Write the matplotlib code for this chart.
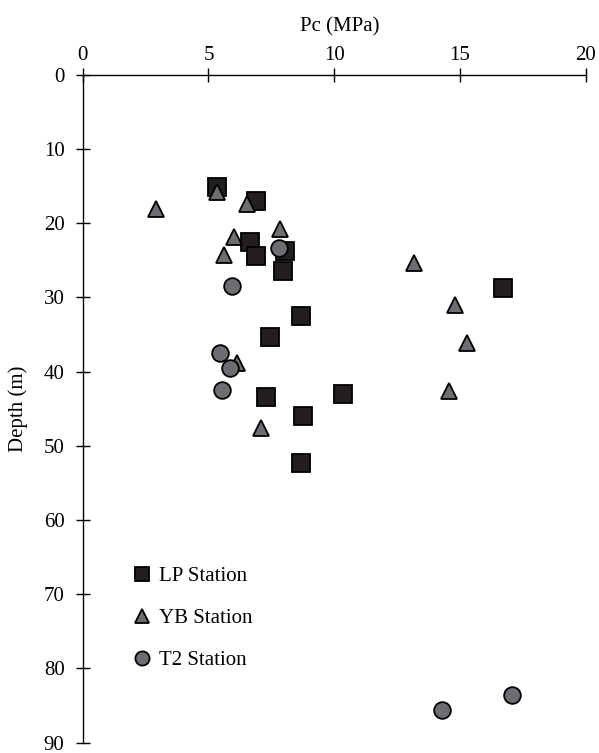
import matplotlib
matplotlib.use("Agg")
import matplotlib.pyplot as plt

plt.rcParams['font.family'] = ['Liberation Serif', 'DejaVu Serif']

# Pc (MPa) vs depth (m) for each station
lp_pc = [5.34, 6.90, 6.66, 8.05, 6.90, 7.95, 16.70, 8.67, 7.45, 7.28, 10.34, 8.74, 8.66]
lp_depth = [15.2, 17.0, 22.5, 23.7, 24.5, 26.5, 28.8, 32.5, 35.4, 43.5, 43.0, 46.0, 52.3]

yb_pc = [5.34, 2.91, 6.52, 7.84, 6.01, 5.61, 13.19, 14.79, 15.28, 6.12, 14.58, 7.07]
yb_depth = [15.8, 18.1, 17.4, 20.8, 21.9, 24.3, 25.4, 31.1, 36.2, 38.9, 42.6, 47.6]

t2_pc = [7.81, 5.93, 5.44, 5.86, 5.55, 14.28, 17.08]
t2_depth = [23.3, 28.5, 37.5, 39.5, 42.5, 85.6, 83.6]

x_ticks = [0, 5, 10, 15, 20]
y_ticks = [0, 10, 20, 30, 40, 50, 60, 70, 80, 90]

fig = plt.figure(figsize=(5.99, 7.53), dpi=100)
ax = fig.add_axes([0.138, 0.0139, 0.840, 0.8869])

ax.plot(lp_pc, lp_depth, 's', color='#231f20', markeredgecolor='black',
        markeredgewidth=1.3, markersize=12.5, label='LP Station')
ax.plot(yb_pc, yb_depth, '^', color='#6d6e71', markeredgecolor='black',
        markeredgewidth=1.3, markersize=12, label='YB Station')
ax.plot(t2_pc, t2_depth, 'o', color='#6d6e71', markeredgecolor='black',
        markeredgewidth=1.3, markersize=12, label='T2 Station')

ax.set_xlim(0, 20)
ax.set_ylim(90, 0)
ax.set_xticks(x_ticks)
ax.set_yticks(y_ticks)

ax.xaxis.tick_top()
ax.xaxis.set_label_position('top')
ax.spines['right'].set_visible(False)
ax.spines['bottom'].set_visible(False)
ax.spines['top'].set_linewidth(1.0)
ax.spines['left'].set_linewidth(1.0)
ax.tick_params(direction='inout', length=10, width=1.0, labelsize=15)
ax.tick_params(axis='x', pad=2)
ax.tick_params(axis='y', pad=8)

ax.set_xlabel('Pc (MPa)', fontsize=15)
ax.set_ylabel('Depth (m)', fontsize=15)
ax.xaxis.set_label_coords(0.51, 1.065)
ax.yaxis.set_label_coords(-0.108, 0.5)

ax.legend(loc='upper left', bbox_to_anchor=(0.085, 0.276), frameon=False,
          fontsize=15, markerscale=0.85, handlelength=0.8, handletextpad=0.4,
          labelspacing=1.07, borderaxespad=0)

fig.savefig('out.png', dpi=100)
